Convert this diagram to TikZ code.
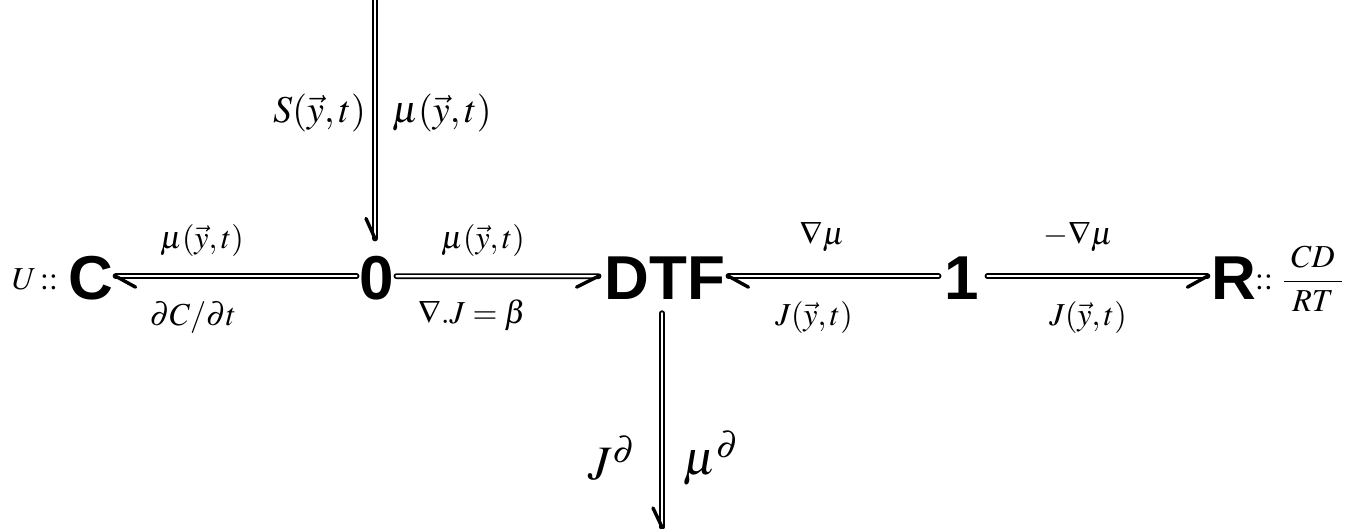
\documentclass[tikz,border=0pt]{standalone}
\usepackage{mathptmx}
\usepackage{fontspec}
\setsansfont{Liberation Sans}
\begin{document}
\begin{tikzpicture}[x=1pt,y=1pt,
  elem/.style={inner sep=0pt,anchor=base,font=\sffamily\bfseries\fontsize{62}{62}\selectfont},
  lab/.style={inner sep=0pt,font=\fontsize{32}{33}\selectfont},
  vlab/.style={inner sep=0pt,font=\fontsize{38}{39}\selectfont},
  blab/.style={inner sep=0pt,font=\fontsize{48}{50}\selectfont},
  bond/.style={line width=1.8pt,double=white,double distance=2.2pt,line cap=round},
  barb/.style={line width=3.4pt,line cap=round}]
\useasboundingbox (0,0) rectangle (1352,529);
% elements
\node[elem] (C) at (91,229) {C};
\node[elem] (zero) at (377,229) {0};
\node[elem] (DTF) at (665,229) {DTF};
\node[elem] (one) at (962,229) {1};
\node[elem] (R) at (1234,229) {R};
\coordinate (topin) at (375,540);
\coordinate (botout) at (662,2);
% horizontal bonds
\draw[bond] ([shift={(2,2.5)}]C.east) -- ([shift={(-3,2.5)}]zero.west);
\draw[barb] ([shift={(2,2.5)}]C.east) -- ++(20,-11);
\draw[bond] ([shift={(2,2.5)}]zero.east) -- ([shift={(-6,2.5)}]DTF.west);
\draw[barb] ([shift={(-6,2.5)}]DTF.west) -- ++(-22,-11);
\draw[bond] ([shift={(3,2.5)}]DTF.east) -- ([shift={(-6,2.5)}]one.west);
\draw[barb] ([shift={(3,2.5)}]DTF.east) -- ++(20,-11);
\draw[bond] ([shift={(8,2.5)}]one.east) -- ([shift={(-4,2.5)}]R.west);
\draw[barb] ([shift={(-4,2.5)}]R.west) -- ++(-20,-11);
% vertical bonds
\draw[bond] (topin) -- ([yshift=18]topin |- zero.north);
\draw[barb] ([yshift=18]topin |- zero.north) -- ++(-9,20);
\draw[bond] ([yshift=-13]botout |- DTF.south) -- (botout);
\draw[barb] (botout) -- ++(-9,19);
% labels
\node[lab] (lU) at (35,250) {$U\,{::}$};
\node[lab,anchor=west] (lR) at (1255,250) {$\displaystyle{::}\hspace{10pt}\frac{\;CD\;}{\;RT\;}$};
\node[lab] (l1) at (202,288) {$\mu(\vec{y},t)$};
\node[lab] (l2) at (483,288) {$\mu(\vec{y},t)$};
\node[lab] (l3) at (822,292) {$\nabla\mu$};
\node[lab] (l4) at (1078,292) {$-\nabla\mu$};
\node[lab] (l5) at (193,211) {$\partial C/\partial t$};
\node[lab] (l6) at (472,214) {$\nabla.J=\beta$};
\node[lab] (l7) at (814,211) {$J(\vec{y},t)$};
\node[lab] (l8) at (1088,211) {$J(\vec{y},t)$};
\node[vlab,anchor=east] (l9) at (366,416) {$S(\vec{y},t)$};
\node[vlab,anchor=west] (l10) at (392,416) {$\mu(\vec{y},t)$};
\node[blab] (l11) at (612,71) {$J^{\partial}$};
\node[blab] (l12) at (711,71) {$\mu^{\partial}$};
\end{tikzpicture}
\end{document}
